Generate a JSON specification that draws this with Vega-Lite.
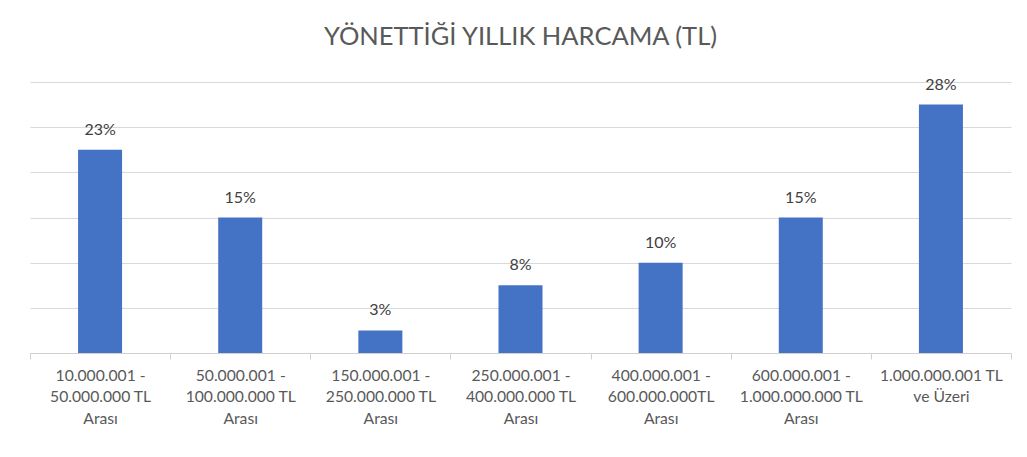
{
  "$schema": "https://vega.github.io/schema/vega-lite/v6.json",
  "width": 981,
  "height": 271,
  "autosize": {"type": "none"},
  "padding": {"left": 30, "top": 82, "right": 16, "bottom": 104},
  "background": "white",
  "title": {
    "text": "YÖNETTİĞİ YILLIK HARCAMA (TL)",
    "font": "Lato",
    "fontSize": 25.5,
    "fontWeight": "normal",
    "color": "#595959",
    "anchor": "middle",
    "baseline": "bottom",
    "offset": 1
  },
  "data": {
    "values": [
      {"category": "10.000.001 -\n50.000.000 TL\nArası", "share": 0.225, "label": "23%"},
      {"category": "50.000.001 -\n100.000.000 TL\nArası", "share": 0.15, "label": "15%"},
      {"category": "150.000.001 -\n250.000.000 TL\nArası", "share": 0.025, "label": "3%"},
      {"category": "250.000.001 -\n400.000.000 TL\nArası", "share": 0.075, "label": "8%"},
      {"category": "400.000.001 -\n600.000.000TL\nArası", "share": 0.10, "label": "10%"},
      {"category": "600.000.001 -\n1.000.000.000 TL\nArası", "share": 0.15, "label": "15%"},
      {"category": "1.000.000.001 TL\nve Üzeri", "share": 0.275, "label": "28%"}
    ]
  },
  "encoding": {
    "x": {
      "field": "category",
      "type": "nominal",
      "sort": null,
      "title": null,
      "scale": {"paddingInner": 0, "paddingOuter": 0},
      "axis": {
        "labelAngle": 0,
        "labelExpr": "split(datum.label, '\\n')",
        "labelFont": "Lato",
        "labelFontSize": 15.7,
        "labelColor": "#595959",
        "labelLineHeight": 21.5,
        "labelPadding": 9,
        "labelBaseline": "top",
        "labelLimit": 200,
        "tickBand": "extent",
        "tickSize": 6,
        "tickColor": "#d0d0d0",
        "domainColor": "#d0d0d0",
        "grid": false
      }
    },
    "y": {
      "field": "share",
      "type": "quantitative",
      "title": null,
      "scale": {"domain": [0, 0.3], "nice": false},
      "axis": {
        "values": [0, 0.05, 0.1, 0.15, 0.2, 0.25, 0.3],
        "labels": false,
        "ticks": false,
        "domain": false,
        "grid": true,
        "gridColor": "#d9d9d9",
        "gridWidth": 1
      }
    }
  },
  "layer": [
    {"mark": {"type": "bar", "color": "#4472C4", "width": {"band": 0.314}}},
    {
      "mark": {
        "type": "text",
        "font": "Lato",
        "fontSize": 16,
        "color": "#404040",
        "baseline": "bottom",
        "dy": -12
      },
      "encoding": {"text": {"field": "label"}}
    }
  ],
  "config": {
    "view": {"stroke": null}
  }
}
